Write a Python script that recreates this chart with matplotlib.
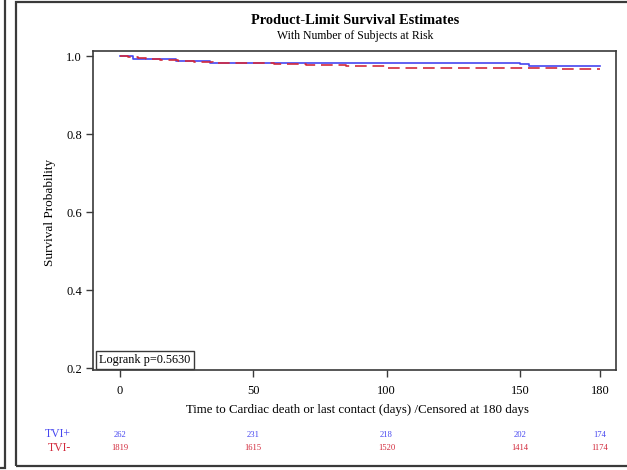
import matplotlib.pyplot as plt
import matplotlib.transforms as mtransforms
from matplotlib.patches import Rectangle

# Kaplan-Meier step data
tvi_pos_days = [0, 5, 21, 34, 150, 153.5, 180]
tvi_pos_surv = [1.0, 0.992, 0.988, 0.983, 0.979, 0.9745, 0.9745]

tvi_neg_days = [0, 3, 7, 10, 15, 22, 28, 35, 45, 58, 70, 85, 100, 165, 180]
tvi_neg_surv = [1.0, 0.997, 0.994, 0.992, 0.989, 0.987, 0.985, 0.983, 0.981,
                0.979, 0.977, 0.974, 0.970, 0.967, 0.967]

risk_days = [0, 50, 100, 150, 180]
risk_pos = [262, 231, 218, 202, 174]
risk_neg = [1819, 1615, 1520, 1414, 1174]

blue = "#4646f0"
red = "#d22a3c"
frame = "#3a3a3a"

plt.rcParams["font.family"] = ["Liberation Serif", "DejaVu Serif"]

fig = plt.figure(figsize=(6.27, 4.70), dpi=100)
W, H = 627, 470


def fx(px):
    return px / W


def fy(py):
    return 1 - py / H


ax = fig.add_axes([fx(93), fy(370), fx(616) - fx(93), fy(51) - fy(370)])

ax.step(tvi_pos_days, tvi_pos_surv, where="post", color=blue, lw=1.2)
ax.step(tvi_neg_days, tvi_neg_surv, where="post", color=red, lw=1.2,
        dashes=(7, 3.5))

ax.set_xlim(-10, 186)
ax.set_ylim(0.196, 1.013)
ax.set_xticks(risk_days)
ax.set_yticks([0.2, 0.4, 0.6, 0.8, 1.0])
ax.set_yticklabels(["0.2", "0.4", "0.6", "0.8", "1.0"])
ax.tick_params(direction="out", length=5, width=1, color=frame,
               labelsize=9, pad=3)
ax.tick_params(axis="x", pad=6)
for s in ax.spines.values():
    s.set_color(frame)
    s.set_linewidth(1.2)

ax.text(0.012, 0.012, "Logrank p=0.5630", transform=ax.transAxes,
        fontsize=8.8, ha="left", va="bottom",
        bbox=dict(boxstyle="square,pad=0.25", fc="white", ec=frame, lw=1))

fig.text(fx(355), fy(20), "Product-Limit Survival Estimates", ha="center",
         va="center", fontsize=10.4, fontweight="bold")
fig.text(fx(355), fy(36), "With Number of Subjects at Risk", ha="center",
         va="center", fontsize=8.5)
fig.text(fx(357), fy(410), "Time to Cardiac death or last contact (days) /Censored at 180 days",
         ha="center", va="center", fontsize=9.3)
fig.text(fx(50), fy(212), "Survival Probability", ha="center", va="center",
         rotation=90, fontsize=9.5)

# number at risk rows
trans = mtransforms.blended_transform_factory(ax.transData, fig.transFigure)
for d, n in zip(risk_days, risk_pos):
    fig.text(d, fy(435), str(n), transform=trans, ha="center", va="center",
             fontsize=6.2, color=blue)
for d, n in zip(risk_days, risk_neg):
    fig.text(d, fy(448), str(n), transform=trans, ha="center", va="center",
             fontsize=6.2, color=red)
fig.text(fx(71), fy(434), "TVI+", ha="right", va="center", fontsize=8.5,
         color=blue)
fig.text(fx(71), fy(448), "TVI-", ha="right", va="center", fontsize=8.5,
         color=red)

# panel frames
fig.patches.append(Rectangle((fx(-20), fy(468)), fx(25), fy(-5) - fy(468),
                             transform=fig.transFigure, fill=False,
                             ec=frame, lw=1.6))
fig.patches.append(Rectangle((fx(16), fy(466)), fx(640) - fx(16),
                             fy(2) - fy(466), transform=fig.transFigure,
                             fill=False, ec=frame, lw=1.6))

fig.savefig("out.png", dpi=100)
